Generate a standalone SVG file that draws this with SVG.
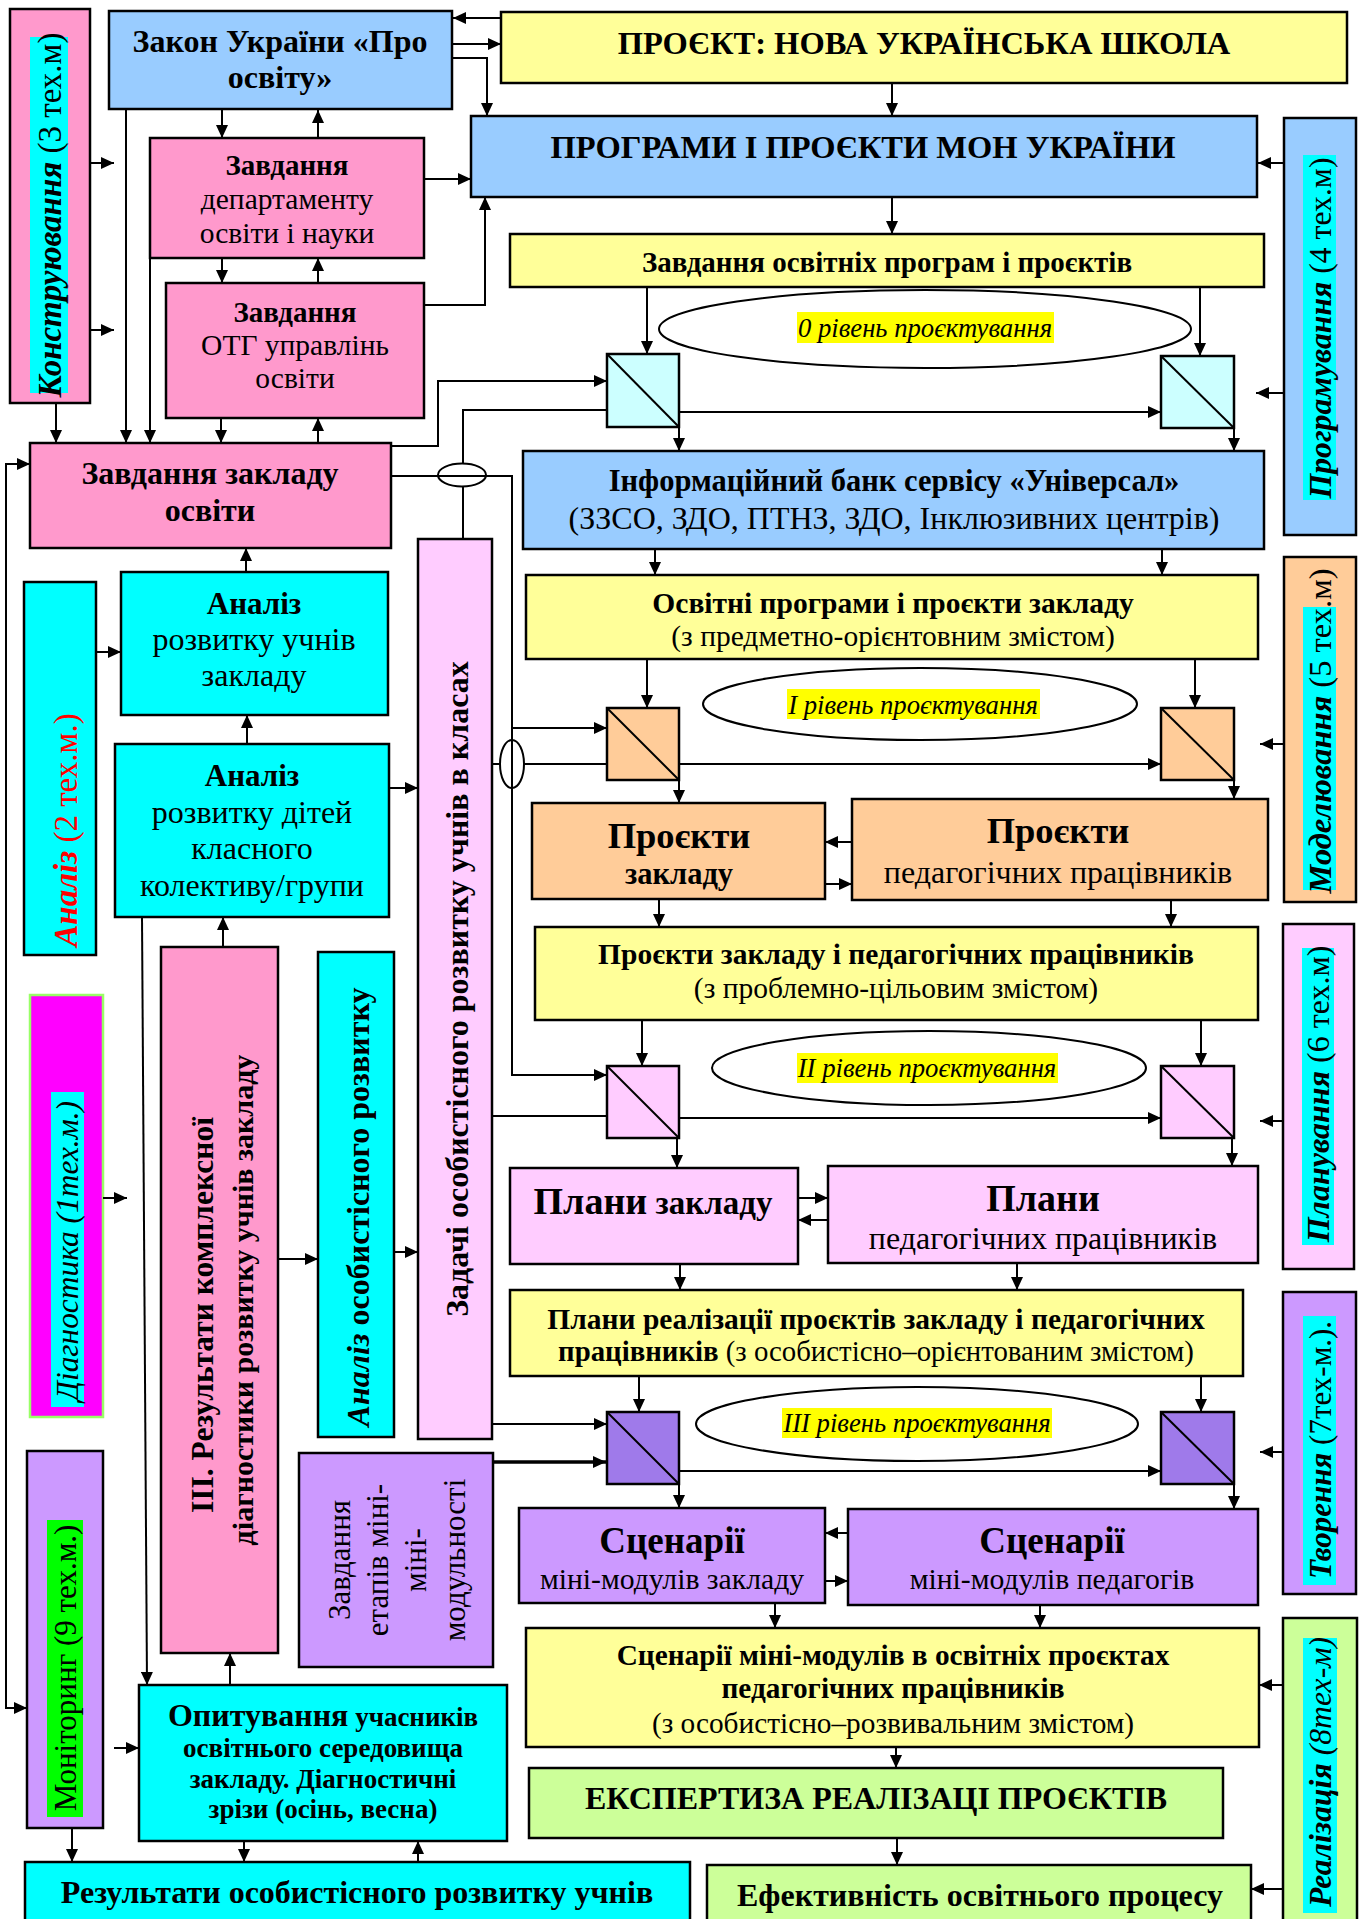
<svg xmlns="http://www.w3.org/2000/svg" width="1360" height="1919" viewBox="0 0 1360 1919">
<defs>
<marker id="ah" markerWidth="13" markerHeight="12" refX="13" refY="6" orient="auto" markerUnits="userSpaceOnUse"><path d="M0,0 L13,6 L0,12 z" fill="#000"/></marker>
<style>
text{font-family:"Liberation Serif","Times New Roman",serif;fill:#000}
.bx{stroke:#000;stroke-width:2.5}
.ln{stroke:#000;stroke-width:2;fill:none}
.ar{stroke:#000;stroke-width:2;fill:none;marker-end:url(#ah)}
.th{stroke-width:3.5}
.b{font-weight:bold}
.i{font-style:italic}
.m{text-anchor:middle}
.pk{fill:#FF99CC}.bl{fill:#99CCFF}.ye{fill:#FFFF99}.cy{fill:#00FFFF}.lp{fill:#FFCCFF}
.pe{fill:#FFCC99}.lv{fill:#CC99FF}.lg{fill:#CCFF99}.lc{fill:#CCFFFF}.vi{fill:#9F7AEA}
.hl{fill:#FFFF00}.el{fill:#fff;stroke:#000;stroke-width:2}
</style>
</defs>
<rect width="1360" height="1919" fill="#fff"/>

<g id="konstruyuvannya">
<rect class="bx pk" x="10" y="9" width="80" height="394"/>
<rect class="cy" x="30" y="37" width="38" height="356"/>
<text class="m" font-size="33" transform="translate(49,215) rotate(-90)" y="12"><tspan class="b i">Конструювання</tspan> (3 тех.м)</text>
</g>
<g id="zakon">
<rect class="bx bl" x="109" y="11" width="343" height="98"/>
<text class="m b" font-size="32" x="280" y="52">Закон України «Про</text>
<text class="m b" font-size="32" x="280" y="88">освіту»</text>
</g>
<g id="proekt-nush">
<rect class="bx ye" x="501" y="12" width="846" height="71"/>
<text class="m b" font-size="32.5" x="924" y="54">ПРОЄКТ: НОВА УКРАЇНСЬКА ШКОЛА</text>
</g>
<g id="prohramy-mon">
<rect class="bx bl" x="471" y="116" width="786" height="81"/>
<text class="m b" font-size="32.5" x="863" y="158">ПРОГРАМИ І ПРОЄКТИ МОН УКРАЇНИ</text>
</g>
<g id="zavdannya-osv-prohram">
<rect class="bx ye" x="510" y="234" width="754" height="53"/>
<text class="m b" font-size="29" x="887" y="272">Завдання освітніх програм і проєктів</text>
</g>
<g id="prohramuvannya">
<rect class="bx bl" x="1284" y="118" width="72" height="417"/>
<rect class="cy" x="1303" y="155" width="33" height="345"/>
<text class="m" font-size="31.7" transform="translate(1320,328) rotate(-90)" y="11"><tspan class="b i">Програмування</tspan> (4 тех.м)</text>
</g>
<g id="zavdannya-departamentu">
<rect class="bx pk" x="150" y="138" width="274" height="120"/>
<text class="m b" font-size="29" x="287" y="175">Завдання</text>
<text class="m" font-size="29.5" x="287" y="209">департаменту</text>
<text class="m" font-size="29.5" x="287" y="243">освіти і науки</text>
</g>
<g id="zavdannya-otg">
<rect class="bx pk" x="166" y="283" width="258" height="135"/>
<text class="m b" font-size="29" x="295" y="322">Завдання</text>
<text class="m" font-size="29.5" x="295" y="355">ОТГ управлінь</text>
<text class="m" font-size="29.5" x="295" y="388">освіти</text>
</g>
<g id="zavdannya-zakladu">
<rect class="bx pk" x="30" y="443" width="361" height="105"/>
<text class="m b" font-size="32" x="210" y="484">Завдання закладу</text>
<text class="m b" font-size="32" x="210" y="521">освіти</text>
</g>
<g id="riven-0">
<ellipse class="el" cx="925" cy="329" rx="266" ry="39"/>
<rect class="hl" x="797" y="312" width="257" height="31"/>
<text class="m i" font-size="26.7" x="925" y="337">0 рівень проєктування</text>
</g>
<g id="splitter-0-left"><rect class="bx lc" x="607" y="354" width="72" height="73"/><path class="ln" d="M607,354 L679,427"/></g>
<g id="splitter-0-right"><rect class="bx lc" x="1161" y="356" width="73" height="72"/><path class="ln" d="M1161,356 L1234,428"/></g>
<g id="info-bank">
<rect class="bx bl" x="523" y="451" width="741" height="98"/>
<text class="m b" font-size="30.5" x="894" y="491">Інформаційний банк сервісу «Універсал»</text>
<text class="m" font-size="32" x="894" y="529">(ЗЗСО, ЗДО, ПТНЗ, ЗДО, Інклюзивних центрів)</text>
</g>
<g id="osvitni-prohramy">
<rect class="bx ye" x="526" y="575" width="732" height="84"/>
<text class="m b" font-size="29.5" x="893" y="613">Освітні програми і проєкти закладу</text>
<text class="m" font-size="29.5" x="893" y="646">(з предметно-орієнтовним змістом)</text>
</g>
<g id="modelyuvannya">
<rect class="bx pe" x="1284" y="557" width="72" height="345"/>
<rect class="cy" x="1303" y="607" width="33" height="283"/>
<text class="m" font-size="32.5" transform="translate(1320,731) rotate(-90)" y="11"><tspan class="b i">Моделювання</tspan> (5 тех.м)</text>
</g>
<g id="analiz-side">
<rect class="bx cy" x="24" y="582" width="72" height="373"/>
<text class="m" font-size="33" style="fill:#FF0000" transform="translate(65,830) rotate(-90)" y="12"><tspan class="b i">Аналіз</tspan> (2 тех.м.)</text>
</g>
<g id="analiz-uchniv">
<rect class="bx cy" x="121" y="572" width="267" height="143"/>
<text class="m b" font-size="31" x="254" y="614">Аналіз</text>
<text class="m" font-size="32" x="254" y="650">розвитку учнів</text>
<text class="m" font-size="32" x="254" y="686">закладу</text>
</g>
<g id="analiz-ditei">
<rect class="bx cy" x="115" y="744" width="274" height="173"/>
<text class="m b" font-size="31" x="252" y="786">Аналіз</text>
<text class="m" font-size="32" x="252" y="823">розвитку дітей</text>
<text class="m" font-size="32" x="252" y="859">класного</text>
<text class="m" font-size="32" x="252" y="896">колективу/групи</text>
</g>
<g id="zadachi">
<rect class="bx lp" x="418" y="539" width="74" height="900"/>
<text class="m b" font-size="32" transform="translate(457,989) rotate(-90)" y="11">Задачі особистісного розвитку учнів в класах</text>
</g>
<g id="riven-1">
<ellipse class="el" cx="920" cy="704" rx="217" ry="36"/>
<rect class="hl" x="787" y="689" width="253" height="30"/>
<text class="m i" font-size="26.7" x="913" y="714">І рівень проєктування</text>
</g>
<g id="splitter-1-left"><rect class="bx pe" x="607" y="708" width="72" height="72"/><path class="ln" d="M607,708 L679,780"/></g>
<g id="splitter-1-right"><rect class="bx pe" x="1161" y="708" width="73" height="72"/><path class="ln" d="M1161,708 L1234,780"/></g>
<g id="proekty-zakladu">
<rect class="bx pe" x="532" y="803" width="293" height="96"/>
<text class="m b" font-size="36.5" x="679" y="848">Проєкти</text>
<text class="m b" font-size="30.5" x="679" y="884">закладу</text>
</g>
<g id="proekty-pedahohiv">
<rect class="bx pe" x="852" y="799" width="416" height="101"/>
<text class="m b" font-size="36.5" x="1058" y="843">Проєкти</text>
<text class="m" font-size="32" x="1058" y="883">педагогічних працівників</text>
</g>
<g id="proekty-zakladu-i-ped">
<rect class="bx ye" x="535" y="927" width="723" height="93"/>
<text class="m b" font-size="29.5" x="896" y="964">Проєкти закладу і педагогічних працівників</text>
<text class="m" font-size="29.5" x="896" y="998">(з проблемно-цільовим змістом)</text>
</g>
<g id="planuvannya">
<rect class="bx lp" x="1283" y="924" width="71" height="345"/>
<rect class="cy" x="1302" y="948" width="32" height="297"/>
<text class="m" font-size="32" transform="translate(1318,1094) rotate(-90)" y="11"><tspan class="b i">Планування</tspan> (6 тех.м)</text>
</g>
<g id="riven-2">
<ellipse class="el" cx="929" cy="1068" rx="217" ry="37"/>
<rect class="hl" x="797" y="1053" width="261" height="30"/>
<text class="m i" font-size="26.7" x="927" y="1077">ІІ рівень проєктування</text>
</g>
<g id="splitter-2-left"><rect class="bx lp" x="607" y="1066" width="72" height="72"/><path class="ln" d="M607,1066 L679,1138"/></g>
<g id="splitter-2-right"><rect class="bx lp" x="1161" y="1066" width="73" height="72"/><path class="ln" d="M1161,1066 L1234,1138"/></g>
<g id="plany-zakladu">
<rect class="bx lp" x="510" y="1168" width="288" height="96"/>
<text class="m b" x="653" y="1214"><tspan font-size="38">Плани</tspan><tspan font-size="33"> закладу</tspan></text>
</g>
<g id="plany-pedahohiv">
<rect class="bx lp" x="828" y="1166" width="430" height="97"/>
<text class="m b" font-size="38" x="1043" y="1211">Плани</text>
<text class="m" font-size="32" x="1043" y="1249">педагогічних працівників</text>
</g>
<g id="plany-realizatsii">
<rect class="bx ye" x="510" y="1290" width="733" height="86"/>
<text class="m b" font-size="29.5" x="876" y="1329">Плани реалізації проєктів закладу і педагогічних</text>
<text class="m" font-size="28.8" x="876" y="1361"><tspan class="b">працівників</tspan> (з особистісно–орієнтованим змістом)</text>
</g>
<g id="tvorennya">
<rect class="bx lv" x="1283" y="1292" width="73" height="302"/>
<rect class="cy" x="1303" y="1316" width="33" height="269"/>
<text class="m" font-size="31" transform="translate(1320,1450) rotate(-90)" y="11"><tspan class="b i">Творення</tspan> (7тех-м.).</text>
</g>
<g id="riven-3">
<ellipse class="el" cx="917" cy="1424" rx="221" ry="37"/>
<rect class="hl" x="782" y="1408" width="270" height="30"/>
<text class="m i" font-size="26.7" x="917" y="1432">ІІІ рівень проєктування</text>
</g>
<g id="splitter-3-left"><rect class="bx vi" x="607" y="1412" width="72" height="72"/><path class="ln" d="M607,1412 L679,1484"/></g>
<g id="splitter-3-right"><rect class="bx vi" x="1161" y="1412" width="73" height="72"/><path class="ln" d="M1161,1412 L1234,1484"/></g>
<g id="stsenarii-zakladu">
<rect class="bx lv" x="519" y="1508" width="306" height="95"/>
<text class="m b" font-size="37" x="672" y="1553">Сценарії</text>
<text class="m" font-size="29.7" x="672" y="1589">міні-модулів закладу</text>
</g>
<g id="stsenarii-pedahohiv">
<rect class="bx lv" x="848" y="1509" width="410" height="96"/>
<text class="m b" font-size="37" x="1052" y="1553">Сценарії</text>
<text class="m" font-size="29.7" x="1052" y="1589">міні-модулів педагогів</text>
</g>
<g id="stsenarii-v-proektakh">
<rect class="bx ye" x="526" y="1628" width="733" height="119"/>
<text class="m b" font-size="29.3" x="893" y="1665">Сценарії міні-модулів в освітніх проєктах</text>
<text class="m b" font-size="29.3" x="893" y="1698">педагогічних працівників</text>
<text class="m" font-size="29.3" x="893" y="1733">(з особистісно–розвивальним змістом)</text>
</g>
<g id="realizatsiya">
<rect class="bx lg" x="1283" y="1618" width="74" height="330"/>
<rect class="cy" x="1303" y="1638" width="34" height="275"/>
<text class="m" font-size="31.7" transform="translate(1320,1772) rotate(-90)" y="11"><tspan class="b i">Реалізація</tspan><tspan class="i"> (8тех-м)</tspan></text>
</g>
<g id="ekspertyza">
<rect class="bx lg" x="529" y="1768" width="694" height="70"/>
<text class="m b" font-size="32" x="876" y="1809">ЕКСПЕРТИЗА РЕАЛІЗАЦІ ПРОЄКТІВ</text>
</g>
<g id="efektyvnist">
<rect class="bx lg" x="707" y="1865" width="544" height="80"/>
<text class="m b" font-size="32" x="980" y="1906">Ефективність освітнього процесу</text>
</g>
<g id="rezultaty-rozvytku">
<rect class="bx cy" x="25" y="1862" width="665" height="80"/>
<text class="m b" font-size="32" x="357" y="1903">Результати особистісного розвитку учнів</text>
</g>
<g id="opytuvannya">
<rect class="bx cy" x="139" y="1685" width="368" height="156"/>
<text class="m b" x="323" y="1726"><tspan font-size="32">Опитування</tspan><tspan font-size="27"> учасників</tspan></text>
<text class="m b" font-size="27" x="323" y="1757">освітнього середовища</text>
<text class="m b" font-size="27" x="323" y="1788">закладу. Діагностичні</text>
<text class="m b" font-size="27" x="323" y="1818">зрізи (осінь, весна)</text>
</g>
<g id="monitorynh">
<rect class="bx lv" x="27" y="1451" width="76" height="377"/>
<rect x="47" y="1520" width="36" height="297" fill="#00FF00"/>
<text class="m" font-size="31" transform="translate(65,1668) rotate(-90)" y="11">Моніторинг (9 тех.м.)</text>
</g>
<g id="diahnostyka">
<rect x="30" y="995" width="73" height="422" fill="#FF00FF" stroke="#99FF66" stroke-width="2.5"/>
<rect class="cy" x="51" y="1092" width="33" height="315"/>
<text class="m i" font-size="31.4" transform="translate(67,1251) rotate(-90)" y="11">Діагностика (1тех.м.)</text>
</g>
<g id="rezultaty-diahnostyky">
<rect class="bx pk" x="161" y="947" width="117" height="706"/>
<text class="m b" font-size="31.5" transform="translate(202,1315) rotate(-90)" y="11">ІІІ. Результати комплексної</text>
<text class="m b" font-size="30" transform="translate(243,1300) rotate(-90)" y="10">діагностики розвитку учнів закладу</text>
</g>
<g id="analiz-osobystisnoho">
<rect class="bx cy" x="318" y="952" width="76" height="485"/>
<text class="m b" font-size="32" transform="translate(358,1207) rotate(-90)" y="11"><tspan class="i">Аналіз</tspan> особистісного розвитку</text>
</g>
<g id="zavdannya-etapiv">
<rect class="bx lv" x="299" y="1453" width="194" height="214"/>
<text class="m" font-size="31" transform="translate(340,1560) rotate(-90)" y="10">Завдання</text>
<text class="m" font-size="31" transform="translate(378,1560) rotate(-90)" y="10">етапів міні-</text>
<text class="m" font-size="31" transform="translate(416,1560) rotate(-90)" y="10">міні-</text>
<text class="m" font-size="31" transform="translate(455,1560) rotate(-90)" y="10">модульності</text>
</g>

<g id="connectors">
<path class="ar" d="M501,18 H453"/>
<path class="ar" d="M452,44 H501"/>
<path class="ar" d="M452,58 H487 V116"/>
<path class="ar" d="M892,83 V116"/>
<path class="ar" d="M892,197 V234"/>
<path class="ar" d="M1284,163 H1258"/>
<path class="ar" d="M1284,393 H1256"/>
<path class="ar" d="M222,110 V138"/>
<path class="ar" d="M318,138 V110"/>
<path class="ar" d="M424,179 H471"/>
<path class="ar" d="M222,258 V283"/>
<path class="ar" d="M318,283 V258"/>
<path class="ar" d="M424,305 H485 V197"/>
<path class="ar" d="M90,163 H114"/>
<path class="ar" d="M90,330 H114"/>
<path class="ar" d="M56,403 V443"/>
<path class="ar" d="M126,109 V443"/>
<path class="ar" d="M150,258 V443"/>
<path class="ar" d="M221,418 V443"/>
<path class="ar" d="M318,443 V418"/>
<path class="ar" d="M6,1100 V464 H30"/>
<path class="ar" d="M6,1100 V1708 H27"/>
<path class="ar" d="M391,446 H438 V381 H607"/>
<path class="ln" d="M463,539 V487"/>
<path class="ln" d="M463,464 V410 H607"/>
<ellipse cx="462" cy="475" rx="24" ry="11.5" fill="none" stroke="#000" stroke-width="2"/>
<path class="ar" d="M391,476 H512 V1075 H607"/>
<path class="ar" d="M512,728 H607"/>
<path class="ln" d="M492,764 H500 M524,764 H607"/>
<ellipse cx="512" cy="764" rx="12" ry="24" fill="none" stroke="#000" stroke-width="2"/>
<path class="ar" d="M679,764 H1161"/>
<path class="ln" d="M492,1116 H607"/>
<path class="ar" d="M679,1118 H1161"/>
<path class="ar" d="M492,1424 H607"/>
<path class="ar th" d="M493,1462 H606"/>
<path class="ar" d="M679,1471 H1161"/>
<path class="ar" d="M679,412 H1161"/>
<path class="ar" d="M647,287 V354"/>
<path class="ar" d="M1200,287 V356"/>
<path class="ar" d="M679,427 V451"/>
<path class="ar" d="M1234,428 V451"/>
<path class="ar" d="M655,549 V575"/>
<path class="ar" d="M1162,549 V575"/>
<path class="ar" d="M647,659 V708"/>
<path class="ar" d="M1195,659 V708"/>
<path class="ar" d="M679,780 V803"/>
<path class="ar" d="M1234,780 V799"/>
<path class="ar" d="M852,842 H825"/>
<path class="ar" d="M825,884 H852"/>
<path class="ar" d="M659,899 V927"/>
<path class="ar" d="M1171,900 V927"/>
<path class="ar" d="M1284,744 H1260"/>
<path class="ar" d="M642,1020 V1066"/>
<path class="ar" d="M1201,1020 V1066"/>
<path class="ar" d="M677,1138 V1168"/>
<path class="ar" d="M1232,1138 V1166"/>
<path class="ar" d="M798,1198 H828"/>
<path class="ar" d="M828,1220 H798"/>
<path class="ar" d="M1283,1121 H1260"/>
<path class="ar" d="M680,1264 V1290"/>
<path class="ar" d="M1017,1263 V1290"/>
<path class="ar" d="M639,1376 V1412"/>
<path class="ar" d="M1201,1376 V1412"/>
<path class="ar" d="M679,1484 V1508"/>
<path class="ar" d="M1234,1484 V1509"/>
<path class="ar" d="M848,1533 H825"/>
<path class="ar" d="M825,1581 H848"/>
<path class="ar" d="M1283,1452 H1260"/>
<path class="ar" d="M775,1603 V1628"/>
<path class="ar" d="M1040,1605 V1628"/>
<path class="ar" d="M1283,1685 H1259"/>
<path class="ar" d="M896,1747 V1768"/>
<path class="ar" d="M897,1838 V1865"/>
<path class="ar" d="M1283,1889 H1251"/>
<path class="ar" d="M96,652 H121"/>
<path class="ar" d="M246,572 V548"/>
<path class="ar" d="M247,744 V715"/>
<path class="ar" d="M389,788 H418"/>
<path class="ar" d="M223,947 V917"/>
<path class="ar" d="M142,917 L147,1685"/>
<path class="ar" d="M103,1198 H127"/>
<path class="ar" d="M278,1259 H318"/>
<path class="ar" d="M394,1252 H418"/>
<path class="ar" d="M230,1685 V1653"/>
<path class="ar" d="M114,1748 H139"/>
<path class="ar" d="M72,1828 V1862"/>
<path class="ar" d="M244,1841 V1862"/>
<path class="ar" d="M418,1862 V1841"/>
</g>
</svg>
